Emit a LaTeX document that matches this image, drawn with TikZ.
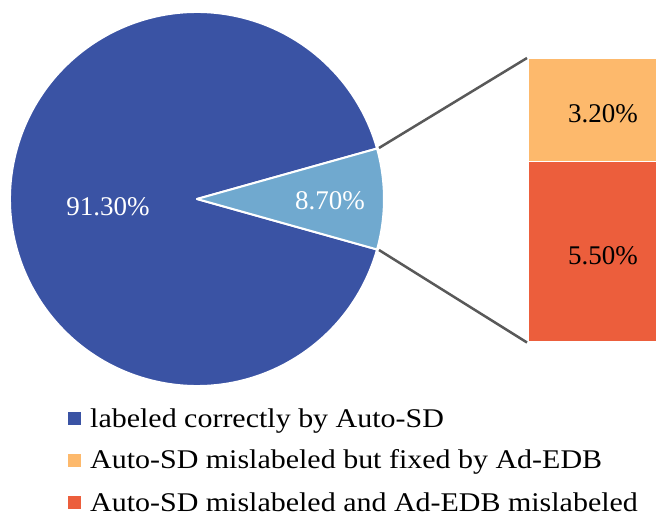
\documentclass[tikz,border=0pt]{standalone}
\usepackage{fontspec}
\setmainfont{Liberation Serif}
\newfontfamily\legfont[FakeStretch=1.11]{Liberation Serif}
\usetikzlibrary{calc}
\definecolor{cdark}{HTML}{3A53A4}
\definecolor{clight}{HTML}{70A9CF}
\definecolor{corange}{HTML}{FDB96C}
\definecolor{cred}{HTML}{EC5E3C}
\definecolor{cline}{HTML}{595959}
\tikzset{
  slice/.style={draw=white, line width=2pt, line join=round},
  bar/.style={draw=white, line width=1.5pt, inner sep=0pt, anchor=north west},
  zoomline/.style={draw=cline, line width=2.5pt},
  val/.style={font=\fontsize{27}{32}\selectfont, inner sep=0pt, anchor=base},
  legsq/.style={minimum size=13pt, inner sep=0pt},
  legtxt/.style={font=\legfont\fontsize{27}{32}\selectfont, anchor=base west, inner sep=0pt},
}
\begin{document}
\begin{tikzpicture}[x=1pt, y=-1pt]
\useasboundingbox (0,0) rectangle (656,513);
\coordinate (c) at (197,199);
% big slice
\path[slice, fill=cdark] (c) -- ++(15.66:187) arc (15.66:344.34:187) -- cycle;
% small slice
\path[slice, fill=clight] (c) -- ++(-15.66:187) arc (-15.66:15.66:187) -- cycle;
\coordinate (stop) at ($(c)+(-15.66:189)$);
\coordinate (sbot) at ($(c)+(15.66:189)$);
% bar
\node[bar, fill=corange, minimum width=130pt, minimum height=103pt] (orange) at (527,58) {};
\node[bar, fill=cred, minimum width=130pt, minimum height=180pt] (red) at (527,161) {};
\draw[zoomline] (stop) -- (orange.north west);
\draw[zoomline] (sbot) -- (red.south west);
% labels
\node[val, text=white] (l1) at (108,216) {91.30\%};
\node[val, text=white] (l2) at (330,210) {8.70\%};
\node[val] (l3) at (603,123) {3.20\%};
\node[val] (l4) at (603,265) {5.50\%};
% legend
\node[legsq, fill=cdark] (s1) at (74,418) {};
\node[legsq, fill=corange] (s2) at (74,460) {};
\node[legsq, fill=cred] (s3) at (74,502.5) {};
\node[legtxt] (t1) at (90,427) {labeled correctly by Auto-SD};
\node[legtxt] (t2) at (90,468) {Auto-SD mislabeled but fixed by Ad-EDB};
\node[legtxt] (t3) at (90,511) {Auto-SD mislabeled and Ad-EDB mislabeled};
\end{tikzpicture}
\end{document}
